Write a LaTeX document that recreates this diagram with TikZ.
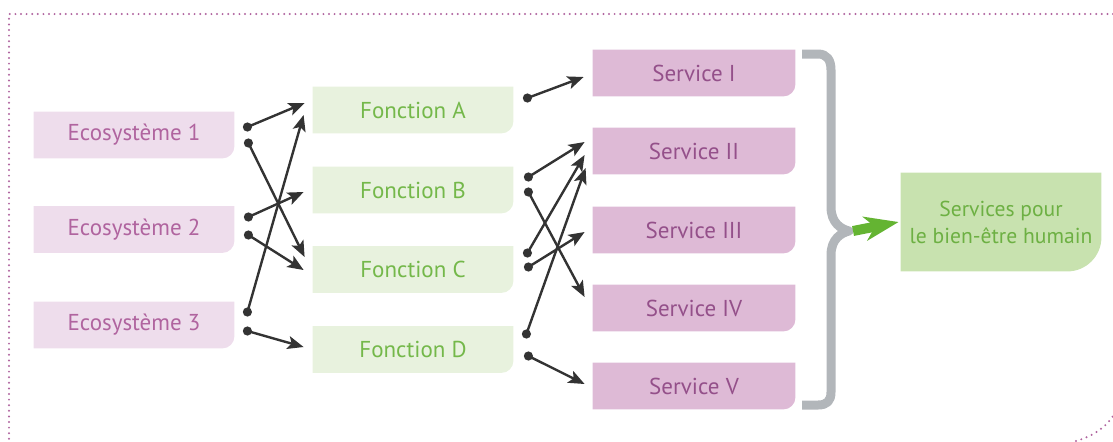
\documentclass[tikz,border=0pt]{standalone}
\usepackage{fontspec}
\setmainfont{PT Sans}
\usetikzlibrary{arrows.meta,backgrounds}
\definecolor{ecofill}{HTML}{EEDDEC}
\definecolor{ecotext}{HTML}{B0649F}
\definecolor{fonfill}{HTML}{E8F2DE}
\definecolor{fontext}{HTML}{74B84A}
\definecolor{serfill}{HTML}{DEBAD6}
\definecolor{sertext}{HTML}{94508A}
\definecolor{resfill}{HTML}{C8E2AF}
\definecolor{restext}{HTML}{6DB043}
\definecolor{bracegray}{HTML}{B2B6BA}
\definecolor{arrowgreen}{HTML}{64B432}
\definecolor{conncol}{HTML}{333333}
\definecolor{bordercol}{HTML}{B0649F}
\begin{document}
\begin{tikzpicture}[x=0.5pt,y=-0.5pt,
  box/.style={minimum width=100pt,minimum height=23pt,inner sep=0pt,font=\fontsize{11.5}{13}\selectfont},
  ecobox/.style={box,text=ecotext},
  fonbox/.style={box,text=fontext},
  serbox/.style={box,minimum width=101pt,text=sertext},
  resbox/.style={box,minimum height=49pt,text=restext,align=center,font=\fontsize{10.8}{13.5}\selectfont},
  dot/.style={circle,fill=conncol,inner sep=0pt,minimum size=4.6pt},
  conn/.style={draw=conncol,line width=1.2pt,-{Stealth[length=8pt,width=6.5pt,inset=1.8pt]}},
  border/.style={draw=bordercol,line width=1.1pt,line cap=round,dash pattern=on 0pt off 2.8pt},
  bracestyle/.style={draw=bracegray,line width=4.5pt,line join=round},
  bigarrow/.style={draw=arrowgreen,line width=5pt,-{Stealth[length=17pt 0,width=12pt 0,inset=5pt 0]}}
]
\useasboundingbox (0,0) rectangle (1113,441);

% border
\draw[border] (1113,14) -- (9,14) -- (9,441);
\draw[border] (1076,441) .. controls (1093,436) and (1105,428) .. (1113,416);

% boxes
\node[ecobox] (e1) at (134,135) {Ecosystème 1};
\node[ecobox] (e2) at (134,229.5) {Ecosystème 2};
\node[ecobox] (e3) at (134,325) {Ecosystème 3};
\node[fonbox] (fA) at (413,110) {Fonction A};
\node[fonbox] (fB) at (413,190) {Fonction B};
\node[fonbox] (fC) at (413,269.5) {Fonction C};
\node[fonbox] (fD) at (413,349.5) {Fonction D};
\node[serbox] (s1) at (694,73) {Service I};
\node[serbox] (s2) at (694,151) {Service II};
\node[serbox] (s3) at (694,230) {Service III};
\node[serbox] (s4) at (694,308) {Service IV};
\node[serbox] (s5) at (694,386) {Service V};
\node[resbox] (res) at (1001,222) {Services pour\\le bien-être humain};

\begin{scope}[on background layer]
\foreach \n/\c/\r in {e1/ecofill/6pt,e2/ecofill/6pt,e3/ecofill/6pt,
  fA/fonfill/6pt,fB/fonfill/6pt,fC/fonfill/6pt,fD/fonfill/6pt,
  s1/serfill/6pt,s2/serfill/6pt,s3/serfill/6pt,s4/serfill/6pt,s5/serfill/6pt,
  res/resfill/17pt}
  \fill[\c] (\n.north west) -- (\n.north east) -- ([yshift=\r]\n.south east)
    .. controls ([yshift=0.45*\r]\n.south east) and ([xshift=-0.45*\r]\n.south east) ..
    ([xshift=-\r]\n.south east) -- (\n.south west) -- cycle;
\end{scope}

% dots
\node[dot] (e1a) at ([shift={(13,-8)}]e1.east) {};
\node[dot] (e1b) at ([shift={(14,8)}]e1.east) {};
\node[dot] (e2a) at ([shift={(14,-12.5)}]e2.east) {};
\node[dot] (e2b) at ([shift={(14,5.5)}]e2.east) {};
\node[dot] (e3a) at ([shift={(13,-13)}]e3.east) {};
\node[dot] (e3b) at ([shift={(13,6)}]e3.east) {};
\node[dot] (fAa) at ([shift={(14,-12)}]fA.east) {};
\node[dot] (fBa) at ([shift={(15,-13)}]fB.east) {};
\node[dot] (fBb) at ([shift={(15,2)}]fB.east) {};
\node[dot] (fCa) at ([shift={(14,-16.5)}]fC.east) {};
\node[dot] (fCb) at ([shift={(15,-2.5)}]fC.east) {};
\node[dot] (fDa) at ([shift={(13,-15.5)}]fD.east) {};
\node[dot] (fDb) at ([shift={(15,6.5)}]fD.east) {};

% connectors
\draw[conn] (e1a.center) -- ([shift={(-8,-7)}]fA.west);
\draw[conn] (e1b.center) -- ([shift={(-8,-12.5)}]fC.west);
\draw[conn] (e2a.center) -- ([shift={(-9,2)}]fB.west);
\draw[conn] (e2b.center) -- ([shift={(-9,0.5)}]fC.west);
\draw[conn] (e3a.center) -- ([shift={(-9,5)}]fA.west);
\draw[conn] (e3b.center) -- ([shift={(-9,-2.5)}]fD.west);
\draw[conn] (fAa.center) -- ([shift={(-9,4)}]s1.west);
\draw[conn] (fBa.center) -- ([shift={(-8,-9)}]s2.west);
\draw[conn] (fBb.center) -- ([shift={(-8,-11)}]s4.west);
\draw[conn] (fCa.center) -- ([shift={(-8,4)}]s2.west);
\draw[conn] (fCb.center) -- ([shift={(-8,2)}]s3.west);
\draw[conn] (fDa.center) -- ([shift={(-7,17)}]s2.west);
\draw[conn] (fDb.center) -- ([shift={(-8,-2)}]s5.west);

% brace
\coordinate (bt) at (849,231);
\draw[bracestyle] (802,54) -- (818,54) .. controls (827,54) and (831,60) .. (831,70)
  -- (831,207) .. controls (831,223) and (841,229) .. (bt)
  .. controls (841,233) and (831,239) .. (831,255)
  -- (831,392) .. controls (831,401) and (827,405) .. (818,405) -- (802,405);

% big arrow
\draw[bigarrow] ([xshift=2pt]bt) -- ([xshift=-1pt]res.west);
\end{tikzpicture}
\end{document}
